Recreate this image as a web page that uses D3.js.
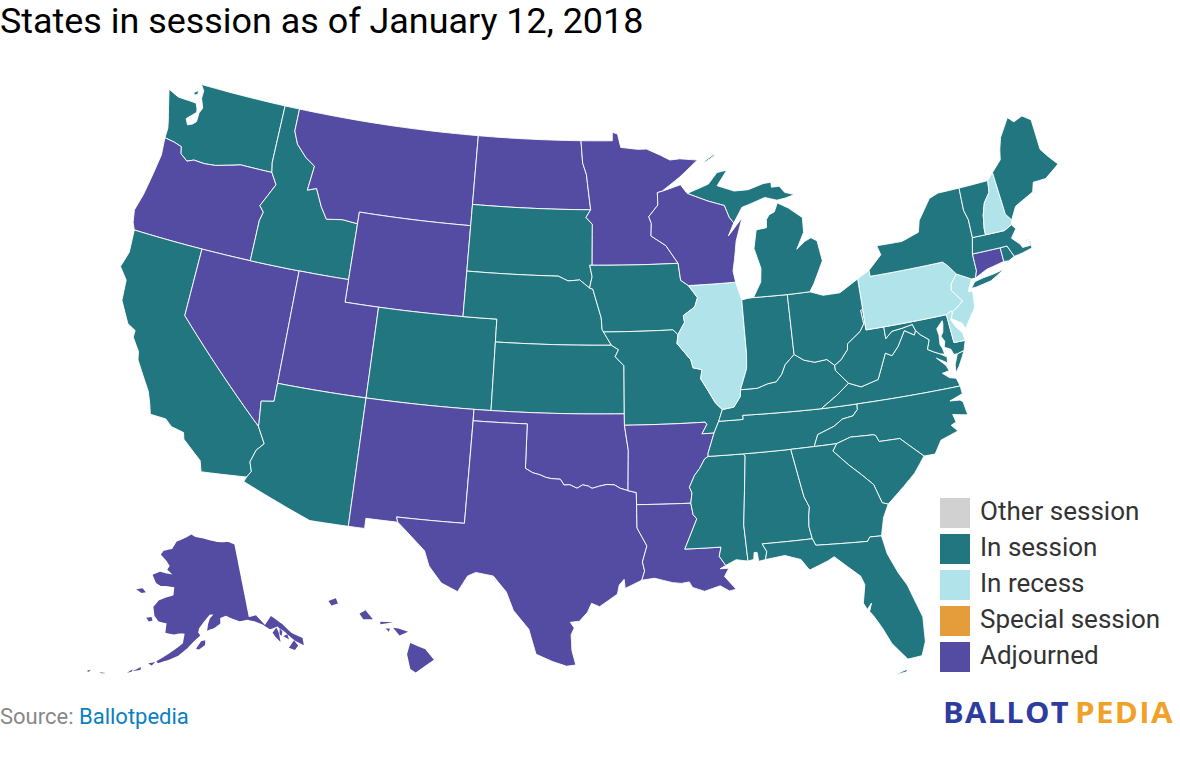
<!DOCTYPE html>
<html><head><meta charset="utf-8">
<script src="https://cdnjs.cloudflare.com/ajax/libs/d3/7.8.5/d3.min.js"></script>
<style>html,body{margin:0;padding:0;background:#fff}svg{display:block}</style>
</head><body><svg id="c" width="1180" height="780"></svg>
<script>
const titleText = "States in session as of January 12, 2018";
const legendLabels = ["Other session","In session","In recess","Special session","Adjourned"];
const legendColors = ["#d1d1d1","#22767f","#b0e4ea","#e59d3c","#544ca3"];
const inSession = ["WA","ID","CA","AZ","CO","SD","NE","KS","IA","MO","MS","AL","TN","KY","IN","MI","OH","WV","VA","NC","SC","GA","FL","MD","NY","VT","MA","RI","ME"];
const inRecess = ["IL","PA","NJ","NH","DE"];
const adjourned = ["OR","MT","ND","MN","WI","WY","NV","UT","NM","TX","OK","AR","LA","CT","AK","HI"];

// shared river border, west to east
const redRiver=[[-100,34.56],[-99.6,34.38],[-99.2,34.3],[-98.9,34.2],[-98.6,34.15],[-98.1,34.13],[-97.9,33.88],[-97.6,33.9],[-97.2,33.75],[-96.9,33.9],[-96.6,33.85],[-96.4,33.75],[-96,33.85],[-95.6,33.92],[-95.2,33.9],[-94.9,33.75],[-94.48,33.64]];

const WA=[[[-122.76,49],[-117.03,49],[-117.04,46.42],[-116.92,45.99],[-118.98,46],[-119.3,45.93],[-120.5,45.7],[-121.2,45.65],[-121.9,45.68],[-122.3,45.55],[-122.8,45.8],[-122.9,46.1],[-123.4,46.2],[-124.05,46.27],[-124.05,46.7],[-124.15,47],[-124.4,47.6],[-124.72,48.38],[-124,48.17],[-123.2,48.15],[-122.75,48.13],[-122.6,47.9],[-122.55,47.75],[-123.1,47.35],[-122.9,47.1],[-122.6,47.2],[-122.4,47.35],[-122.4,47.75],[-122.25,48],[-122.5,48.4],[-122.5,48.75]],[[-123.1,48.55],[-122.85,48.7],[-122.8,48.55],[-123,48.45]]];
const OR=[[[-124.2,42],[-117.03,42],[-117.03,43.8],[-116.9,44.2],[-117.2,44.45],[-116.9,44.9],[-116.5,45.5],[-116.92,45.99],[-118.98,46],[-119.3,45.93],[-120.5,45.7],[-121.2,45.65],[-121.9,45.68],[-122.3,45.55],[-122.8,45.8],[-122.9,46.1],[-123.4,46.2],[-124.05,46.27],[-123.95,45.5],[-124.1,44.6],[-124.3,43.6],[-124.55,42.84],[-124.4,42.3]]];
const CA=[[[-124.2,42],[-120,42],[-120,39],[-114.63,35],[-114.14,34.3],[-114.5,33.95],[-114.7,33.4],[-114.53,33],[-114.72,32.72],[-117.12,32.53],[-117.3,33],[-118.4,33.75],[-118.5,34.03],[-119.2,34.15],[-119.6,34.42],[-120.47,34.45],[-120.65,34.9],[-120.9,35.4],[-121.9,36.6],[-122,36.96],[-122.5,37.5],[-122.5,37.8],[-123,38],[-123.7,38.9],[-123.8,39.8],[-124.35,40.3],[-124.1,41]]];
const NV=[[[-120,42],[-114.05,42],[-114.05,36.2],[-114.75,36.1],[-114.63,35.12],[-114.63,35],[-120,39]]];
const ID=[[[-117.03,49],[-116.05,49],[-116.05,48],[-115.7,47.45],[-115,46.95],[-114.35,46.65],[-114.5,45.55],[-113.95,45.7],[-113.45,44.95],[-113,44.45],[-112,44.55],[-111.05,44.48],[-111.05,42],[-117.03,42],[-117.03,43.8],[-116.9,44.2],[-117.2,44.45],[-116.9,44.9],[-116.5,45.5],[-116.92,45.99],[-117.04,46.42]]];
const MT=[[[-116.05,49],[-104.05,49],[-104.05,45],[-111.05,45],[-111.05,44.48],[-112,44.55],[-113,44.45],[-113.45,44.95],[-113.95,45.7],[-114.5,45.55],[-114.35,46.65],[-115,46.95],[-115.7,47.45],[-116.05,48]]];
const WY=[[[-111.05,45],[-104.05,45],[-104.05,41],[-111.05,41]]];
const UT=[[[-114.05,42],[-111.05,42],[-111.05,41],[-109.05,41],[-109.05,37],[-114.05,37]]];
const AZ=[[[-114.05,37],[-109.05,37],[-109.05,31.33],[-111.07,31.33],[-114.82,32.5],[-114.72,32.72],[-114.53,33],[-114.7,33.4],[-114.5,33.95],[-114.14,34.3],[-114.63,35],[-114.63,35.12],[-114.75,36.1],[-114.05,36.2]]];
const CO=[[[-109.05,41],[-102.05,41],[-102.05,37],[-109.05,37]]];
const NM=[[[-109.05,37],[-103,37],[-103.06,32],[-106.62,32],[-106.53,31.78],[-108.2,31.78],[-108.2,31.33],[-109.05,31.33]]];
const ND=[[[-104.05,49],[-97.23,49],[-97.1,48],[-96.85,47.5],[-96.56,45.94],[-104.05,45.94]]];
const SD=[[[-104.05,45.94],[-96.56,45.94],[-96.85,45.6],[-96.45,45.3],[-96.45,43.5],[-96.6,43.5],[-96.45,43],[-96.6,42.5],[-97.2,42.85],[-97.9,42.8],[-98.5,43],[-104.05,43]]];
const NE=[[[-104.05,43],[-98.5,43],[-97.9,42.8],[-97.2,42.85],[-96.6,42.5],[-96.4,42.45],[-96.1,41.7],[-95.9,41.2],[-95.85,40.7],[-95.31,40],[-102.05,40],[-102.05,41],[-104.05,41]]];
const KS=[[[-102.05,40],[-95.31,40],[-94.9,39.8],[-95.1,39.5],[-94.6,39.1],[-94.62,37],[-102.05,37]]];
const OK=[[[-103,37],[-94.62,37],[-94.62,36.5],[-94.43,35.4],...redRiver.slice().reverse(),[-100,36.5],[-103,36.5]]];
const TX=[[[-106.62,32],[-103.06,32],[-103,36.5],[-100,36.5],...redRiver,[-94.04,33.55],[-94.04,33.02],[-94.04,32],[-93.55,31.2],[-93.8,30.5],[-93.7,30.1],[-93.85,29.7],[-94.7,29.35],[-94.75,29.75],[-95,29.5],[-95.1,29.1],[-96,28.55],[-96.4,28.7],[-96.6,28.3],[-97,27.9],[-97.45,27.85],[-97.25,27.6],[-97.4,27.3],[-97.35,26.6],[-97.15,25.96],[-97.6,25.9],[-98.3,26.1],[-99.1,26.4],[-99.5,27.5],[-100.3,28.3],[-100.7,29.1],[-101.4,29.77],[-102.3,29.88],[-102.7,29.7],[-103.15,28.98],[-104,29.3],[-104.7,30],[-105,30.65],[-106,31.4],[-106.53,31.78]]];
const MN=[[[-97.23,49],[-95.15,49],[-95.15,49.38],[-94.8,49.3],[-94.6,48.7],[-93.5,48.6],[-92.9,48.6],[-92,48.3],[-91.4,48.07],[-90.75,48.1],[-89.6,48],[-90.8,47.3],[-92,46.7],[-92.3,46.65],[-92.3,46.1],[-92.9,45.6],[-92.75,45.3],[-92.8,44.75],[-91.9,44.3],[-91.2,43.5],[-96.45,43.5],[-96.45,45.3],[-96.85,45.6],[-96.56,45.94],[-96.85,47.5],[-97.1,48]]];
const IA=[[[-96.6,43.5],[-91.2,43.5],[-91.1,42.75],[-90.65,42.5],[-90.15,41.95],[-90.35,41.55],[-91.05,41.2],[-91,40.9],[-91.42,40.38],[-91.7,40.6],[-95.77,40.58],[-95.85,40.7],[-95.9,41.2],[-96.1,41.7],[-96.4,42.45],[-96.6,42.5],[-96.45,43]]];
const MO=[[[-95.77,40.58],[-91.7,40.6],[-91.42,40.38],[-91.5,40],[-90.75,39.25],[-90.65,38.9],[-90.15,38.8],[-90.25,38.4],[-89.9,37.9],[-89.5,37.3],[-89.15,37],[-89.4,36.5],[-89.7,36],[-90.37,36],[-90.07,36.4],[-90.15,36.5],[-94.62,36.5],[-94.62,37],[-94.6,39.1],[-95.1,39.5],[-94.9,39.8],[-95.31,40]]];
const AR=[[[-94.62,36.5],[-90.15,36.5],[-90.07,36.4],[-90.37,36],[-89.7,36],[-90.1,35.13],[-90.1,35],[-90.3,34.9],[-90.6,34.5],[-90.9,34.2],[-91.2,33.7],[-91.08,33.45],[-91.17,33],[-94.04,33.02],[-94.04,33.55],[-94.48,33.64],[-94.43,35.4]]];
const LA=[[[-94.04,33.02],[-91.17,33],[-91.08,32.5],[-90.9,32.3],[-91.6,31],[-89.73,31],[-89.85,30.6],[-89.55,30.18],[-89.85,30.05],[-89.4,30.05],[-89.65,29.7],[-89.1,29.1],[-89.45,29.05],[-89.9,29.3],[-90.7,29.1],[-91.3,29.3],[-91.45,29.55],[-91.85,29.5],[-92.3,29.55],[-93.2,29.77],[-93.85,29.7],[-93.7,30.1],[-93.8,30.5],[-93.55,31.2],[-94.04,32]]];
const MS=[[[-90.1,35],[-88.2,35],[-88.1,34.9],[-88.47,31.9],[-88.4,30.3],[-89,30.4],[-89.55,30.18],[-89.85,30.6],[-89.73,31],[-91.6,31],[-90.9,32.3],[-91.08,32.5],[-91.17,33],[-91.08,33.45],[-91.2,33.7],[-90.9,34.2],[-90.6,34.5],[-90.3,34.9]]];
const AL=[[[-88.2,35],[-85.6,35],[-85.18,32.87],[-84.96,32.4],[-85.05,32],[-85.1,31.55],[-85,31],[-87.6,31],[-87.4,30.65],[-87.5,30.3],[-87.85,30.25],[-87.9,30.65],[-88.05,30.65],[-88.1,30.35],[-88.4,30.3],[-88.47,31.9],[-88.1,34.9]]];
const TN=[[[-90.1,35],[-90.1,35.13],[-89.7,36],[-89.4,36.5],[-88.05,36.5],[-88.05,36.68],[-83.68,36.6],[-81.68,36.59],[-81.7,36.35],[-82,36.1],[-82.6,36.03],[-83.1,35.77],[-84.05,35.5],[-84.32,35],[-85.6,35],[-88.2,35]]];
const KY=[[[-89.4,36.5],[-89.15,37],[-88.5,37.07],[-88.1,37.5],[-88.05,37.8],[-87.1,37.8],[-86.5,37.95],[-86,38],[-85.65,38.3],[-85.4,38.7],[-84.82,39.1],[-84.3,38.8],[-83.7,38.65],[-83,38.7],[-82.6,38.4],[-82.6,38.17],[-81.97,37.54],[-82.7,37.1],[-83.68,36.6],[-88.05,36.68],[-88.05,36.5]]];
const VA=[[[-83.68,36.6],[-82.7,37.1],[-81.97,37.54],[-81.3,37.3],[-80.3,37.5],[-80,38],[-79.65,38.58],[-79.3,38.42],[-78.87,38.77],[-78.35,39.4],[-77.83,39.13],[-77.72,39.32],[-77.5,39.1],[-77.05,38.8],[-77.25,38.4],[-76.95,38.25],[-76.6,38.1],[-76.25,37.9],[-76.3,37.65],[-76.85,37.95],[-76.4,37.55],[-76.3,37.3],[-76.7,37.25],[-76.35,37],[-76,36.92],[-75.87,36.55],[-81.68,36.59]],[[-75.95,37.15],[-75.9,37.5],[-75.65,37.95],[-75.24,38.03],[-75.4,37.8],[-75.7,37.4]]];
const WV=[[[-81.97,37.54],[-82.6,38.17],[-82.6,38.4],[-82.2,38.6],[-81.75,39],[-81.7,39.25],[-80.87,39.7],[-80.6,40],[-80.65,40.6],[-80.52,40.64],[-80.52,39.72],[-79.48,39.72],[-79.48,39.2],[-79.06,39.47],[-78.45,39.52],[-77.83,39.6],[-77.72,39.32],[-77.83,39.13],[-78.35,39.4],[-78.87,38.77],[-79.3,38.42],[-79.65,38.58],[-80,38],[-80.3,37.5],[-81.3,37.3]]];
const MD=[[[-79.48,39.72],[-75.79,39.72],[-75.7,38.46],[-75.05,38.45],[-75.24,38.03],[-75.65,37.95],[-75.85,37.95],[-75.95,38.2],[-76.3,38.35],[-76.2,38.6],[-76.35,38.85],[-76.2,39],[-76.1,39.35],[-76.1,39.5],[-76.5,39.2],[-76.45,38.9],[-76.5,38.5],[-76.4,38.3],[-76.35,38.05],[-76.6,38.1],[-76.95,38.25],[-77.25,38.4],[-77.05,38.8],[-77.5,39.1],[-77.72,39.32],[-77.83,39.6],[-78.45,39.52],[-79.06,39.47],[-79.48,39.2]]];
const DE=[[[-75.79,39.72],[-75.5,39.83],[-75.4,39.8],[-75.6,39.45],[-75.4,39.1],[-75.1,38.8],[-75.05,38.45],[-75.7,38.46]]];
const PA=[[[-80.52,41.98],[-79.76,42.27],[-79.76,42],[-75.35,42],[-75.1,41.8],[-74.7,41.36],[-75.13,40.98],[-75.2,40.7],[-74.7,40.15],[-75.13,39.9],[-75.4,39.8],[-75.5,39.83],[-75.79,39.72],[-80.52,39.72],[-80.52,40.64]]];
const NJ=[[[-74.7,41.36],[-73.9,41],[-74.25,40.5],[-74,40.45],[-74.1,39.75],[-74.4,39.45],[-74.9,38.93],[-75,39.2],[-75.55,39.5],[-75.4,39.8],[-75.13,39.9],[-74.7,40.15],[-75.2,40.7],[-75.13,40.98]]];
const NY=[[[-79.76,42],[-79.76,42.27],[-78.9,42.85],[-79.05,43.27],[-77.5,43.25],[-76.4,43.5],[-76.2,44],[-75.3,44.85],[-74.7,45],[-73.35,45],[-73.4,44],[-73.25,43.55],[-73.27,42.75],[-73.5,42.05],[-73.5,41.3],[-73.65,41],[-73.9,41],[-74.7,41.36],[-75.1,41.8],[-75.35,42]],[[-74.03,40.6],[-73.75,40.6],[-72.8,40.72],[-71.9,41.07],[-72.6,40.98],[-73.2,40.93],[-73.75,40.85]]];
const CT=[[[-73.5,42.05],[-71.8,42.02],[-71.8,41.4],[-72.9,41.25],[-73.65,41],[-73.5,41.3]]];
const RI=[[[-71.8,42.02],[-71.38,42.02],[-71.12,41.5],[-71.5,41.37],[-71.8,41.4]]];
const MA=[[[-73.5,42.05],[-73.27,42.75],[-72.46,42.73],[-71.3,42.7],[-70.8,42.87],[-70.6,42.65],[-71,42.3],[-70.6,41.95],[-70.5,41.78],[-70,41.78],[-70.05,42.05],[-70.25,42.07],[-69.95,41.95],[-69.98,41.65],[-70.6,41.55],[-71.12,41.5],[-71.38,42.02],[-71.8,42.02]]];
const VT=[[[-73.35,45],[-71.5,45.01],[-71.6,44.5],[-72.05,44.1],[-72.3,43.6],[-72.45,43],[-72.46,42.73],[-73.27,42.75],[-73.25,43.55],[-73.4,44]]];
const NH=[[[-71.5,45.01],[-71.08,45.3],[-70.98,43.38],[-70.7,43.07],[-70.8,42.87],[-71.3,42.7],[-72.46,42.73],[-72.45,43],[-72.3,43.6],[-72.05,44.1],[-71.6,44.5]]];
const ME=[[[-71.08,45.3],[-70.4,45.75],[-70.25,46.2],[-70,46.7],[-69.23,47.46],[-68.9,47.2],[-68.3,47.35],[-67.8,47.07],[-67.8,45.7],[-67.45,45.3],[-67,44.85],[-68,44.4],[-68.8,44.4],[-69,44],[-69.8,43.75],[-70.25,43.6],[-70.7,43.07],[-70.98,43.38]]];
const NC=[[[-84.32,35],[-84.05,35.5],[-83.1,35.77],[-82.6,36.03],[-82,36.1],[-81.7,36.35],[-81.68,36.59],[-75.87,36.55],[-75.85,36.2],[-76.6,36],[-76.05,35.95],[-75.9,35.85],[-75.8,35.25],[-76.1,35.3],[-76.6,35.4],[-76.5,35.05],[-76.8,34.95],[-76.5,34.65],[-77.5,34.4],[-77.95,33.85],[-78.55,33.86],[-79.67,34.8],[-80.8,34.82],[-80.93,35.1],[-81.05,35.15],[-82.3,35.2],[-83.1,35]]];
const SC=[[[-83.1,35],[-82.3,35.2],[-81.05,35.15],[-80.93,35.1],[-80.8,34.82],[-79.67,34.8],[-78.55,33.86],[-79.2,33.2],[-79.9,32.7],[-80.85,32.05],[-81.15,32.15],[-81.45,33],[-82,33.5],[-82.6,34],[-83.35,34.7]]];
const GA=[[[-85.6,35],[-84.32,35],[-83.1,35],[-83.35,34.7],[-82.6,34],[-82,33.5],[-81.45,33],[-81.15,32.15],[-80.85,32.05],[-81.2,31.5],[-81.45,30.72],[-82.05,30.75],[-82.2,30.57],[-84.86,30.7],[-85,31],[-85.1,31.55],[-85.05,32],[-84.96,32.4],[-85.18,32.87]]];
const FL=[[[-87.6,31],[-85,31],[-84.86,30.7],[-82.2,30.57],[-82.05,30.75],[-81.45,30.72],[-81.3,29.9],[-80.9,29],[-80.55,28.4],[-80.05,26.9],[-80.13,25.8],[-80.4,25.2],[-81.1,25.15],[-81.75,25.95],[-82.1,26.7],[-82.45,27.3],[-82.6,27.5],[-82.45,27.85],[-82.7,27.6],[-82.85,27.9],[-82.65,28.7],[-82.8,29.1],[-83.4,29.6],[-84,30.1],[-84.35,29.95],[-85.3,29.65],[-85.4,29.75],[-85.7,30.15],[-86.5,30.4],[-87.5,30.3],[-87.4,30.65]],[[-81.85,24.53],[-81.2,24.72],[-81.25,24.6]]];
const IL=[[[-90.65,42.5],[-87.8,42.5],[-87.53,41.7],[-87.53,39.35],[-87.6,38.7],[-88.05,37.8],[-88.1,37.5],[-88.5,37.07],[-89.15,37],[-89.5,37.3],[-89.9,37.9],[-90.25,38.4],[-90.15,38.8],[-90.65,38.9],[-90.75,39.25],[-91.5,40],[-91.42,40.38],[-91,40.9],[-91.05,41.2],[-90.35,41.55],[-90.15,41.95]]];
const IN=[[[-87.53,41.7],[-87.2,41.75],[-86.82,41.76],[-84.8,41.73],[-84.82,39.1],[-85.4,38.7],[-85.65,38.3],[-86,38],[-86.5,37.95],[-87.1,37.8],[-88.05,37.8],[-87.6,38.7],[-87.53,39.35]]];
const OH=[[[-84.8,41.73],[-83.45,41.73],[-82.7,41.5],[-81.7,41.5],[-80.52,41.98],[-80.52,40.64],[-80.65,40.6],[-80.6,40],[-80.87,39.7],[-81.7,39.25],[-81.75,39],[-82.2,38.6],[-82.6,38.4],[-83,38.7],[-83.7,38.65],[-84.3,38.8],[-84.82,39.1]]];
const MI=[[[-86.82,41.76],[-84.8,41.73],[-83.45,41.73],[-83.15,42.05],[-82.45,43],[-82.6,43.9],[-82.95,44.07],[-83.35,43.95],[-83.9,43.65],[-83.35,44.35],[-83.3,45],[-84.1,45.5],[-84.75,45.78],[-85,45.4],[-85.35,45.3],[-85.55,45.1],[-85.6,44.75],[-86.25,44.7],[-86.5,43.9],[-86.2,43],[-86.3,42.4]],[[-90.4,46.55],[-89,46.9],[-88.4,47.38],[-87.75,47.45],[-88.45,46.8],[-87.4,46.5],[-86.5,46.5],[-85.5,46.7],[-85,46.72],[-85,46.5],[-84.5,46.5],[-84.2,46.2],[-83.6,46.05],[-84.2,45.95],[-84.75,45.9],[-85.5,46.08],[-86.3,45.9],[-87,45.75],[-87.6,45.1],[-87.85,45.35],[-88.1,45.9],[-89.1,46.15]],[[-89.2,47.85],[-88.45,48.15],[-88.55,48.18],[-89.1,47.95]]];
const WI=[[[-92,46.7],[-90.8,46.95],[-90.4,46.55],[-89.1,46.15],[-88.1,45.9],[-87.85,45.35],[-87.6,45.1],[-88,44.55],[-87.05,45.3],[-87.55,44.3],[-87.75,43.5],[-87.9,43],[-87.8,42.5],[-90.65,42.5],[-91.1,42.75],[-91.2,43.5],[-91.9,44.3],[-92.8,44.75],[-92.75,45.3],[-92.9,45.6],[-92.3,46.1],[-92.3,46.65]]];
const HI=[[[-155.9,20.25],[-155.2,19.97],[-154.8,19.5],[-155.65,18.95],[-155.9,19.1],[-156.05,19.75]],[[-156.7,20.93],[-156.45,20.9],[-156,20.75],[-156.4,20.58]],[[-158.28,21.55],[-158,21.7],[-157.65,21.3],[-158.1,21.3]],[[-159.75,22.1],[-159.4,22.23],[-159.3,22],[-159.6,21.9]],[[-157.3,21.2],[-156.7,21.17],[-157.3,21.08]],[[-157.05,20.9],[-156.85,20.9],[-156.9,20.75]]];
const AK=[[[-141,69.65],[-141,60.3],[-139.1,60.35],[-137.5,58.9],[-135.5,59.8],[-134,58.8],[-133.4,58.4],[-132,57],[-130,55.9],[-130.3,55],[-131.8,55.9],[-133.3,57.3],[-134.7,58.3],[-136.6,58.2],[-138,59],[-139.7,59.6],[-141.4,60],[-143.5,60],[-145,60.4],[-146.8,60.9],[-148.3,60.7],[-148.4,60],[-150,59.5],[-151.8,59.2],[-151.5,60],[-151,60.7],[-150,61.2],[-151,61.2],[-152.6,60.3],[-153.8,59.5],[-154,59],[-153.5,58.6],[-155,57.9],[-156.5,57],[-158.5,56],[-160.5,55.4],[-162.8,54.8],[-163.2,55],[-161,56],[-159,56.9],[-157.6,57.6],[-157.3,58.8],[-158.5,58.8],[-160,58.6],[-162,58.7],[-162,59.9],[-164,60],[-165.3,60.6],[-166,61.7],[-164.9,62.6],[-163,63.1],[-161,63.5],[-161,64.5],[-163,64.55],[-165,64.45],[-166.5,64.7],[-168,65.65],[-166,66.2],[-163.8,66.1],[-162,66.1],[-163.8,66.6],[-163.2,67.1],[-164.5,67.7],[-166.7,68.35],[-166,68.9],[-163.2,69.3],[-161.9,70.3],[-159,70.85],[-156.6,71.35],[-155,71.05],[-152,70.85],[-149,70.5],[-146,70.2],[-143,70.1]],
[[-154.5,56.95],[-153.3,57.9],[-152.3,58],[-152.4,57.4],[-153.8,56.85]],[[-171.7,63.4],[-170,63.7],[-168.8,63.3],[-170,63.1]],[[-167.3,60.2],[-166,60.4],[-165.6,60],[-166.5,59.8]],[[-164.9,54.6],[-163.4,54.9],[-164.1,54.4]],[[-167.8,53.3],[-166.3,54],[-166.3,53.6]],[[-169,52.9],[-167.9,53.5],[-168,53.2]],[[-133.6,55.3],[-132,56],[-131.5,55.2],[-132.5,54.8]],[[-136.2,57.7],[-135,58.2],[-134.8,57.5],[-135,56.3],[-135.8,57.1]],[[-134.7,57.3],[-134.3,58],[-133.9,57.5],[-134.4,57]],[[-134,56.9],[-133,57],[-133,56.3]],[[-177,51.7],[-176.3,52],[-176.5,51.7]],[[-174.5,52.05],[-173.2,52.2],[-174,52]]];

const stateNames=["WA","OR","CA","NV","ID","MT","WY","UT","AZ","CO","NM","ND","SD","NE","KS","OK","TX","MN","IA","MO","AR","LA","MS","AL","TN","KY","VA","WV","MD","DE","PA","NJ","NY","CT","RI","MA","VT","NH","ME","NC","SC","GA","FL","IL","IN","OH","MI","WI","HI","AK"];
const stateShapes=[WA,OR,CA,NV,ID,MT,WY,UT,AZ,CO,NM,ND,SD,NE,KS,OK,TX,MN,IA,MO,AR,LA,MS,AL,TN,KY,VA,WV,MD,DE,PA,NJ,NY,CT,RI,MA,VT,NH,ME,NC,SC,GA,FL,IL,IN,OH,MI,WI,HI,AK];
const noBorder=["HI","AK"];

const statusColor=d3.scaleOrdinal().domain(["In session","In recess","Adjourned"]).range(["#22767f","#b0e4ea","#544ca3"]);
const statusOf=s=>inSession.includes(s)?"In session":inRecess.includes(s)?"In recess":"Adjourned";

// follow parallels and meridians between vertices rather than great circles
function follow(ring){const out=[];ring.forEach((p,i)=>{const q=ring[(i+1)%ring.length];const n=Math.max(1,Math.ceil(Math.max(Math.abs(q[0]-p[0]),Math.abs(q[1]-p[1]))/0.5));for(let k=0;k<n;k++)out.push([p[0]+(q[0]-p[0])*k/n,p[1]+(q[1]-p[1])*k/n]);});out.push(out[0]);return out;}
function toFeature(rings){const polys=rings.map(r=>{let c=follow(r);if(d3.geoArea({type:"Polygon",coordinates:[c]})>2*Math.PI)c=c.slice().reverse();return [c];});return {type:"MultiPolygon",coordinates:polys};}

const svg=d3.select("#c");
const projection=d3.geoAlbersUsa().scale(1300).translate([589,375]);
const path=d3.geoPath(projection);
svg.append("g").selectAll("path").data(stateNames).join("path")
  .attr("d",(s,i)=>path(toFeature(stateShapes[i])))
  .attr("fill",s=>statusColor(statusOf(s)))
  .attr("stroke",s=>noBorder.includes(s)?"none":"#fff").attr("stroke-width",0.9).attr("stroke-linejoin","round");

svg.append("text").attr("x",0).attr("y",33).attr("font-family","Roboto").attr("font-size",35.9).attr("fill","#000").text(titleText);

const lg=svg.append("g").selectAll("g").data(legendLabels).join("g").attr("transform",(d,i)=>`translate(940,${498+i*36})`);
lg.append("rect").attr("width",30).attr("height",30).attr("fill",(d,i)=>legendColors[i]);
lg.append("text").attr("x",40).attr("y",22).attr("font-family","Roboto").attr("font-size",26).attr("fill","#333").text(d=>d);

const src=svg.append("text").attr("x",0).attr("y",724).attr("font-family","Roboto").attr("font-size",22);
src.append("tspan").attr("fill","#888").text("Source: ");
src.append("tspan").attr("fill","#0a7fc2").text("Ballotpedia");

svg.append("text").attr("x",943).attr("y",723).attr("font-family","Open Sans").attr("font-weight",700).attr("font-size",28).attr("letter-spacing",1.2).attr("textLength",127).attr("lengthAdjust","spacingAndGlyphs").attr("fill","#2e3c9f").text("BALLOT");
svg.append("text").attr("x",1075).attr("y",723).attr("font-family","Open Sans").attr("font-weight",700).attr("font-size",28).attr("letter-spacing",1.2).attr("textLength",99).attr("lengthAdjust","spacingAndGlyphs").attr("fill","#f0a127").text("PEDIA");
</script></body></html>
